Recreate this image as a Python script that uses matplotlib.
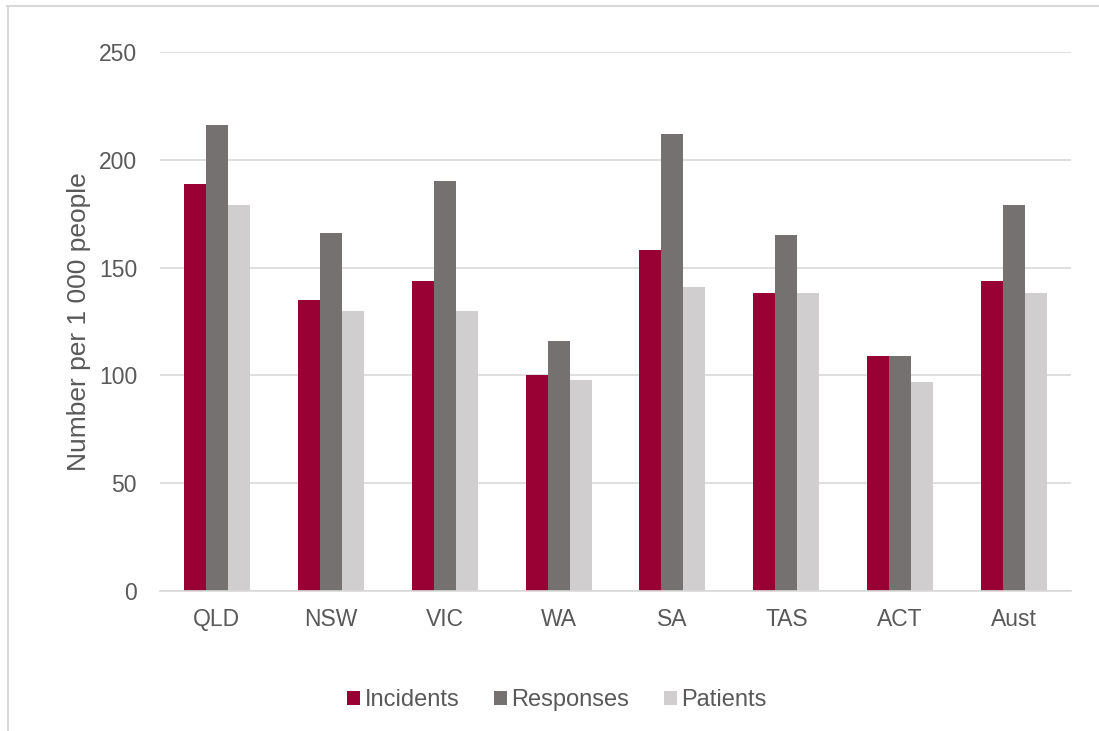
import matplotlib
matplotlib.use("Agg")
import matplotlib.pyplot as plt
from matplotlib.lines import Line2D
from matplotlib.patches import Patch
import numpy as np

plt.rcParams['font.family'] = ['Liberation Sans', 'DejaVu Sans']

regions = ["QLD", "NSW", "VIC", "WA", "SA", "TAS", "ACT", "Aust"]
incidents = [189, 135, 144, 100, 158, 138, 109, 144]
responses = [216, 166, 190, 116, 212, 165, 109, 179]
patients = [179, 130, 130, 98, 141, 138, 97, 138]
series_names = ["Incidents", "Responses", "Patients"]
colors = ["#990033", "#767171", "#D0CECE"]
y_ticks = [0, 50, 100, 150, 200, 250]

W, H = 1099, 731
fig = plt.figure(figsize=(W / 100, H / 100), dpi=100)
ax = fig.add_axes([160 / W, 1 - 591 / H, (1071 - 160) / W, (591 - 52) / H])

text_color = "#595959"
grid_color = "#D9D9D9"

x = np.arange(len(regions))
bw = 0.193
for i, (vals, col) in enumerate(zip([incidents, responses, patients], colors)):
    ax.bar(x + (i - 1) * bw, vals, width=bw, color=col, zorder=3)

ax.set_xlim(-0.5, len(regions) - 0.5)
ax.set_ylim(0, 250)
ax.set_yticks(y_ticks)
ax.set_xticks(x)
ax.set_xticklabels(regions)
ax.tick_params(axis='both', length=0, labelsize=16.5, colors=text_color)
ax.tick_params(axis='y', pad=16.5)
ax.tick_params(axis='x', pad=12)
ax.yaxis.grid(True, color=grid_color, linewidth=1.2, zorder=0)
for side in ["top", "right", "left"]:
    ax.spines[side].set_visible(False)
ax.spines["bottom"].set_color(grid_color)
ax.spines["bottom"].set_linewidth(1.2)
ax.spines["bottom"].set_zorder(4)

ax.set_ylabel("Number per 1 000 people", fontsize=19, color=text_color)
ax.yaxis.set_label_coords((91 - 160) / 911, 0.5)

handles = [Patch(facecolor=c, edgecolor='none') for c in colors]
fig.legend(handles, series_names, loc='center', bbox_to_anchor=(557 / W, 1 - 700 / H),
           ncol=3, frameon=False, fontsize=17, handlelength=0.55, handleheight=0.55,
           handletextpad=0.2, columnspacing=1.45, labelcolor=text_color)

# chart frame (top and left edges)
fig.add_artist(Line2D([7 / W, 1], [1 - 6 / H, 1 - 6 / H], color=grid_color, linewidth=1.5))
fig.add_artist(Line2D([7.5 / W, 7.5 / W], [0, 1 - 6 / H], color=grid_color, linewidth=1.5))

fig.savefig("out.png", dpi=100)
